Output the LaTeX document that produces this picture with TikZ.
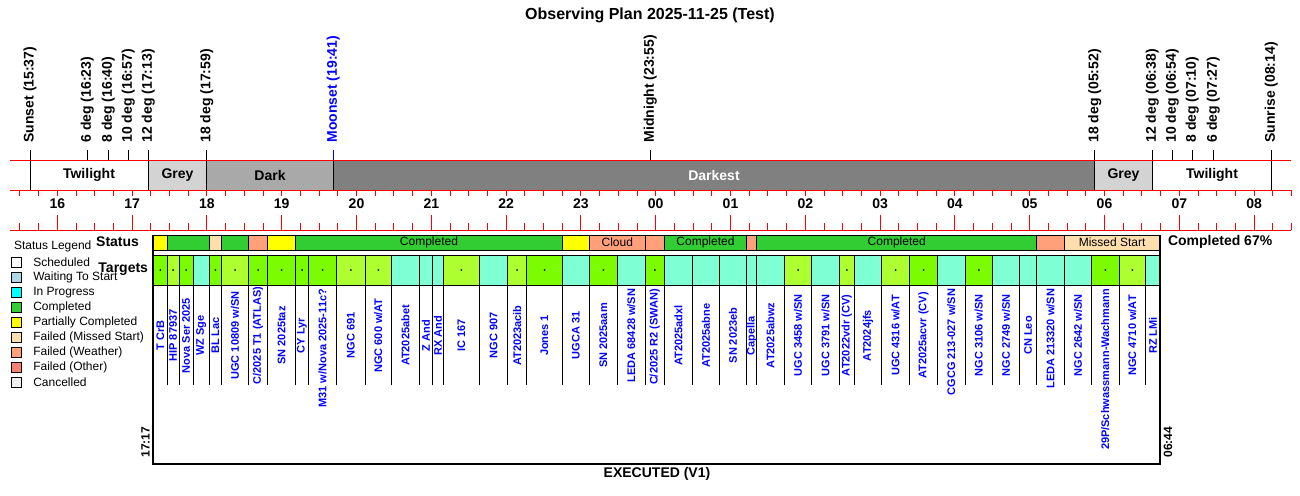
\documentclass[tikz,border=0pt]{standalone}
\usepackage{fontspec}
\setmainfont{Liberation Sans}
\definecolor{lgreen}{HTML}{7CFC00}
\definecolor{gyellow}{HTML}{ADFF2F}
\definecolor{aqua}{HTML}{7FFFD4}
\definecolor{compl}{HTML}{32CD32}
\definecolor{partial}{HTML}{FFFF00}
\definecolor{missed}{HTML}{FFDEAD}
\definecolor{weather}{HTML}{FFA07A}
\definecolor{otherf}{HTML}{FA8072}
\definecolor{cancel}{HTML}{F0F0F0}
\definecolor{waiting}{HTML}{ADD8E6}
\definecolor{inprog}{HTML}{00FFFF}
\definecolor{greyband}{HTML}{D3D3D3}
\definecolor{darkband}{HTML}{A9A9A9}
\definecolor{darkestband}{HTML}{808080}
\definecolor{tblue}{HTML}{0000FF}
\newcommand\fsz[1]{\fontsize{#1}{#1}\selectfont}
\newcounter{tcn}
\newcounter{scn}
% target cell: x1, x2, colour, dot(1/0), label, mode (c centred / t top)
\newcommand\tcell[6]{%
  \stepcounter{tcn}%
  \fill[#3] (#1,255.5) rectangle (#2,285);
  \draw[cellline] (#1,255.5) rectangle (#2,285);
  \draw[cellline] (#2,285) -- (#2,385);
  \ifnum#4=1 \fill[black] ({(#1+#2)/2},270) circle (1);\fi
  \if t#6
    \node[tlabel, anchor=east] (tl\arabic{tcn}) at ({(#1+#2)/2},289) {#5};
  \else
    \node[tlabel, anchor=center] (tl\arabic{tcn}) at ({(#1+#2)/2},335.5) {#5};
  \fi
}
% status cell: x1, x2, colour, label
\newcommand\scell[4]{%
  \stepcounter{scn}%
  \fill[#3] (#1,235) rectangle (#2,250.5);
  \draw[cellline] (#1,235) rectangle (#2,250.5);
  \node[slabel] (sl\arabic{scn}) at ({(#1+#2)/2},242.5) {#4};
}
\begin{document}
\begin{tikzpicture}[x=1pt,y=-1pt,
  every node/.style={inner sep=0pt, outer sep=0pt},
  redline/.style={draw=red, line width=1pt},
  cellline/.style={draw=black, line width=1pt},
  evline/.style={draw=black, line width=1pt},
  evlabel/.style={rotate=90, anchor=west, font=\fsz{14}\bfseries},
  bandlabel/.style={font=\fsz{14}\bfseries},
  hourlabel/.style={font=\fsz{14}\bfseries},
  tlabel/.style={rotate=90, text=tblue, font=\fsz{11}\bfseries},
  slabel/.style={font=\fsz{12}},
  legbox/.style={draw=black, line width=0.8pt},
  legtext/.style={anchor=west, font=\fsz{12}}]
\useasboundingbox (0,0) rectangle (1300,495);
\fill[white] (0,0) rectangle (1300,495);

% title
\node[font=\fsz{16}\bfseries] (title) at (650,15) {Observing Plan 2025-11-25 (Test)};

% darkness bands
\fill[white] (10,160) rectangle (148.3,190);
\fill[greyband] (148.3,160) rectangle (206.7,190);
\fill[darkband] (206.7,160) rectangle (333.3,190);
\fill[darkestband] (333.3,160) rectangle (1094.7,190);
\fill[greyband] (1094.7,160) rectangle (1152.3,190);
\fill[white] (1152.3,160) rectangle (1291,190);
\node[bandlabel] (b1) at (89,175) {Twilight};
\node[bandlabel] (b2) at (177.5,175) {Grey};
\node[bandlabel] (b3) at (270,175) {Dark};
\node[bandlabel, text=white] (b4) at (714,175) {Darkest};
\node[bandlabel] (b5) at (1123.5,175) {Grey};
\node[bandlabel] (b6) at (1212,175) {Twilight};

% event lines
\foreach \x in {30,148.3,206.7,1094.7,1152.3,1271.3}{\draw[evline] (\x,150) -- (\x,190);}
\foreach \x in {87.3,108.3,128.3,650.3,1172.3,1192.3,1213.3}{\draw[evline] (\x,150) -- (\x,160);}
\draw[draw=tblue, line width=1pt] (333.3,150) -- (333.3,160);
\draw[evline] (333.3,160) -- (333.3,190);

% event labels
\node[evlabel] (e1) at (30,142.5) {Sunset (15:37)};
\node[evlabel] (e2) at (87.3,142.5) {6 deg (16:23)};
\node[evlabel] (e3) at (108.3,142.5) {8 deg (16:40)};
\node[evlabel] (e4) at (128.3,142.5) {10 deg (16:57)};
\node[evlabel] (e5) at (148.3,142.5) {12 deg (17:13)};
\node[evlabel] (e6) at (206.7,142.5) {18 deg (17:59)};
\node[evlabel, text=tblue] (e7) at (333.3,142.5) {Moonset (19:41)};
\node[evlabel] (e8) at (650.3,142.5) {Midnight (23:55)};
\node[evlabel] (e9) at (1094.7,142.5) {18 deg (05:52)};
\node[evlabel] (e10) at (1152.3,142.5) {12 deg (06:38)};
\node[evlabel] (e11) at (1172.3,142.5) {10 deg (06:54)};
\node[evlabel] (e12) at (1192.3,142.5) {8 deg (07:10)};
\node[evlabel] (e13) at (1213.3,142.5) {6 deg (07:27)};
\node[evlabel] (e14) at (1271.3,142.5) {Sunrise (08:14)};

% red axes
\draw[redline] (10,160) -- (1291,160);
\draw[redline] (10,190) -- (1291,190);
\draw[redline] (10,230) -- (1291,230);
\foreach \i in {0,...,68}{
  \pgfmathsetmacro\xx{57.3+(\i/4-0.5)*74.8}
  \draw[redline] (\xx,190) -- (\xx,196);
  \pgfmathtruncatemacro\mm{mod(\i+2,4)}
  \ifnum\mm=0
    \draw[redline] (\xx,230) -- (\xx,215);
  \else
    \draw[redline] (\xx,230) -- (\xx,223);
  \fi
}
\foreach \k/\lab in {0/16,1/17,2/18,3/19,4/20,5/21,6/22,7/23,8/00,9/01,10/02,11/03,12/04,13/05,14/06,15/07,16/08}{
  \node[hourlabel] (h\k) at ({57.3+\k*74.8},204) {\lab};
}

% legend
\node[anchor=west, font=\fsz{12}] (legtitle) at (14,246.3) {Status Legend};
\foreach \k/\c/\t in {0/white/Scheduled,1/waiting/Waiting To Start,2/inprog/In Progress,3/compl/Completed,4/partial/Partially Completed,5/missed/Failed (Missed Start),6/weather/Failed (Weather),7/otherf/Failed (Other),8/cancel/Cancelled}{
  \filldraw[legbox, fill=\c] (11.7,{257.3+15*\k}) rectangle (21.7,{267.3+15*\k});
  \node[legtext] (lg\k) at (33.3,{262.3+15*\k}) {\t};
}

% status row
\scell{153.3}{167.3}{partial}{}
\scell{167.3}{209}{compl}{}
\scell{209}{221.7}{missed}{}
\scell{221.7}{248.3}{compl}{}
\scell{248.3}{267.7}{weather}{}
\scell{267.7}{295.7}{partial}{}
\scell{295.7}{562.3}{compl}{Completed}
\scell{562.3}{589.3}{partial}{}
\scell{589.3}{645.3}{weather}{Cloud}
\scell{645.3}{664.3}{weather}{}
\scell{664.3}{746.7}{compl}{Completed}
\scell{746.7}{756.7}{weather}{}
\scell{756.7}{1036.7}{compl}{Completed}
\scell{1036.7}{1064.3}{weather}{}
\scell{1064.3}{1160}{missed}{Missed Start}

% target row
\tcell{153.3}{167.3}{lgreen}{1}{T CrB}{c}
\tcell{167.3}{179}{gyellow}{1}{HIP 87937}{c}
\tcell{179}{193.3}{lgreen}{1}{Nova Ser 2025}{c}
\tcell{193.3}{209}{aqua}{0}{WZ Sge}{c}
\tcell{209}{221.7}{lgreen}{1}{BL Lac}{c}
\tcell{221.7}{248.3}{gyellow}{1}{UGC 10809 w/SN}{c}
\tcell{248.3}{267.7}{lgreen}{1}{C/2025 T1 (ATLAS)}{c}
\tcell{267.7}{295.7}{lgreen}{1}{SN 2025taz}{c}
\tcell{295.7}{308.3}{lgreen}{1}{CY Lyr}{c}
\tcell{308.3}{336.7}{lgreen}{1}{M31 w/Nova 2025-11c?}{t}
\tcell{336.7}{365}{gyellow}{1}{NGC 691}{c}
\tcell{365}{391.7}{gyellow}{1}{NGC 600 w/AT}{c}
\tcell{391.7}{419.3}{aqua}{0}{AT2025abet}{c}
\tcell{419.3}{432.7}{aqua}{0}{Z And}{c}
\tcell{432.7}{443.3}{aqua}{0}{RX And}{c}
\tcell{443.3}{479.3}{gyellow}{1}{IC 167}{c}
\tcell{479.3}{507.7}{aqua}{0}{NGC 907}{c}
\tcell{507.7}{526.7}{gyellow}{1}{AT2023acib}{c}
\tcell{526.7}{562.3}{lgreen}{1}{Jones 1}{c}
\tcell{562.3}{589.3}{aqua}{0}{UGCA 31}{c}
\tcell{589.3}{617.3}{lgreen}{1}{SN 2025aam}{c}
\tcell{617.3}{645.3}{aqua}{0}{LEDA 68428 w/SN}{c}
\tcell{645.3}{664.3}{lgreen}{1}{C/2025 R2 (SWAN)}{t}
\tcell{664.3}{692.7}{aqua}{0}{AT2025adxl}{c}
\tcell{692.7}{719.3}{aqua}{0}{AT2025abne}{c}
\tcell{719.3}{746.7}{aqua}{0}{SN 2023eb}{c}
\tcell{746.7}{756.7}{aqua}{0}{Capella}{c}
\tcell{756.7}{784.3}{aqua}{0}{AT2025abwz}{c}
\tcell{784.3}{811.7}{gyellow}{1}{UGC 3458 w/SN}{c}
\tcell{811.7}{839.3}{aqua}{0}{UGC 3791 w/SN}{c}
\tcell{839.3}{854.3}{gyellow}{1}{AT2022vdr (CV)}{c}
\tcell{854.3}{881.7}{aqua}{0}{AT2024jfs}{c}
\tcell{881.7}{909.3}{gyellow}{1}{UGC 4316 w/AT}{c}
\tcell{909.3}{937.7}{lgreen}{1}{AT2025acvr (CV)}{c}
\tcell{937.7}{965}{aqua}{0}{CGCG 213-027 w/SN}{t}
\tcell{965}{992.7}{lgreen}{1}{NGC 3106 w/SN}{c}
\tcell{992.7}{1019.3}{aqua}{0}{NGC 2749 w/SN}{c}
\tcell{1019.3}{1036.7}{aqua}{0}{CN Leo}{c}
\tcell{1036.7}{1064.3}{aqua}{0}{LEDA 213320 w/SN}{t}
\tcell{1064.3}{1091.7}{aqua}{0}{NGC 2642 w/SN}{c}
\tcell{1091.7}{1119}{lgreen}{1}{29P/Schwassmann-Wachmann}{t}
\tcell{1119}{1145.7}{gyellow}{1}{NGC 4710 w/AT}{c}
\tcell{1145.7}{1160}{aqua}{0}{RZ LMi}{c}

% frame
\draw[line width=2pt] (153.3,235) -- (153.3,464.3) -- (1160,464.3) -- (1160,235);

% row labels and other texts
\node[anchor=east, font=\fsz{14}\bfseries] (status) at (139,241.5) {Status};
\node[anchor=east, font=\fsz{14}\bfseries] (targets) at (148,269.3) {Targets};
\node[anchor=west, font=\fsz{14}\bfseries] (pct) at (1168,241.7) {Completed 67\%};
\node[font=\fsz{14}\bfseries] (exec) at (657,474) {EXECUTED (V1)};
\node[rotate=90, anchor=west, font=\fsz{12}\bfseries] (tstart) at (145.5,457.5) {17:17};
\node[rotate=90, anchor=west, font=\fsz{12}\bfseries] (tend) at (1168,457.5) {06:44};
\end{tikzpicture}
\end{document}
